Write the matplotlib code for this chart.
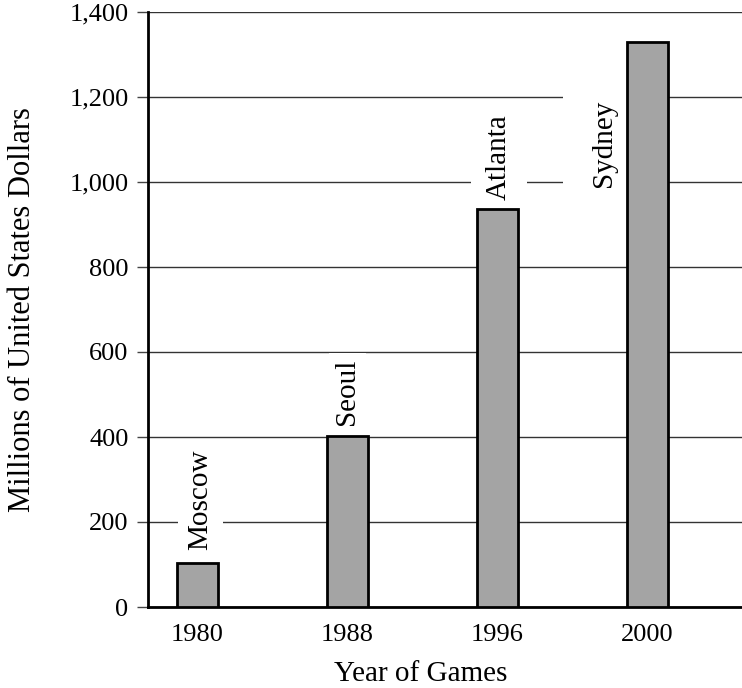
import matplotlib
matplotlib.use("Agg")
import matplotlib.pyplot as plt

years = ["1980", "1988", "1996", "2000"]
cities = ["Moscow", "Seoul", "Atlanta", "Sydney"]
values = [103, 402, 936, 1329]
yticks = [0, 200, 400, 600, 800, 1000, 1200, 1400]
ytick_labels = ["0", "200", "400", "600", "800", "1,000", "1,200", "1,400"]

plt.rcParams['font.family'] = ['Liberation Serif', 'DejaVu Serif']
TICK_FS = 19
LABEL_FS = 22
CITY_FS = 21

fig = plt.figure(figsize=(7.42, 6.88), dpi=100)
ax = fig.add_axes([148/742, 1 - 607/688, (742-148)/742, (607-12)/688])

x = list(range(len(years)))
ax.bar(x, values, width=0.27, color="#a4a4a4", edgecolor="black", linewidth=2, zorder=3)

ax.set_ylim(0, 1400)
ax.set_xlim(-0.33, 3.63)
ax.set_yticks(yticks)
ax.set_yticklabels(ytick_labels, fontsize=TICK_FS)
ax.set_xticks(x)
ax.set_xticklabels(years, fontsize=TICK_FS)
ax.tick_params(axis='x', length=0, pad=12)
ax.tick_params(axis='y', length=8, width=1, direction='out', pad=6, color='#444444')

ax.grid(axis='y', color='#333333', linewidth=1, zorder=0)
ax.set_axisbelow(True)

for s in ['top', 'right']:
    ax.spines[s].set_visible(False)
ax.spines['left'].set_linewidth(2)
ax.spines['bottom'].set_linewidth(2)

# city labels
ax.text(x[0] + 0.02, values[0] + 30, cities[0], rotation=90, ha='center', va='bottom',
        fontsize=CITY_FS, zorder=2, bbox=dict(facecolor='white', edgecolor='none', pad=7))
ax.text(x[1], values[1] + 26, cities[1], rotation=90, ha='center', va='bottom',
        fontsize=CITY_FS, zorder=2, bbox=dict(facecolor='white', edgecolor='none', pad=4))
ax.text(x[2] + 0.01, values[2] + 22, cities[2], rotation=90, ha='center', va='bottom',
        fontsize=CITY_FS, zorder=2, bbox=dict(facecolor='white', edgecolor='none', pad=11))
ax.text(x[3] - 0.29, 988, cities[3], rotation=90, ha='center', va='bottom',
        fontsize=CITY_FS, zorder=2, bbox=dict(facecolor='white', edgecolor='none', pad=20))

ax.set_ylabel("Millions of United States Dollars", fontsize=LABEL_FS, va='center')
ax.yaxis.set_label_coords((23 - 148) / 594, 0.5)
ax.set_xlabel("Year of Games", fontsize=LABEL_FS - 1, va='center')
ax.xaxis.set_label_coords((421 - 148) / 594, (607 - 674) / 595)

fig.savefig("out.png", dpi=100)
